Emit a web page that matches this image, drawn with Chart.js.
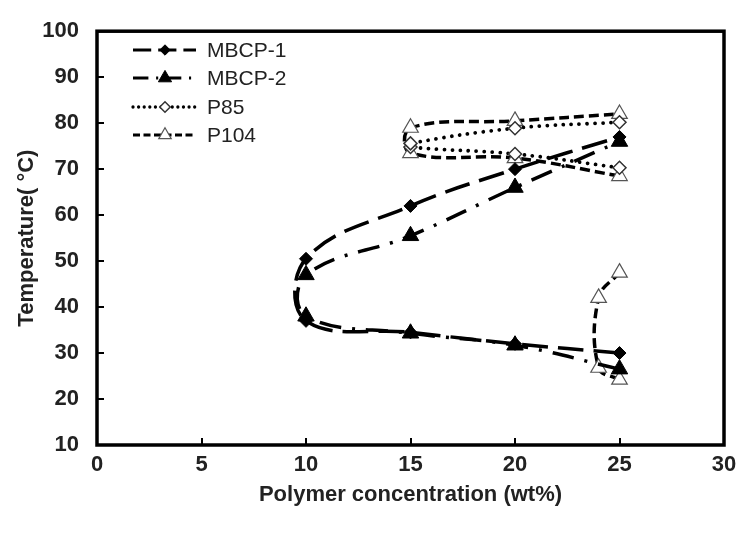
<!DOCTYPE html>
<html><head><meta charset="utf-8">
<script src="https://cdn.jsdelivr.net/npm/chart.js@4/dist/chart.umd.min.js"></script>
<style>html,body{margin:0;padding:0;background:#fff}#wrap{width:751px;height:543px}</style>
</head><body><div id="wrap"><canvas id="c" width="751" height="543"></canvas></div>
<script>
const seriesNames = ['MBCP-1', 'MBCP-2', 'P85', 'P104'];
const mbcp1X = [25, 20, 15, 10, 10, 15, 20, 25];
const mbcp1Y = [30, 32, 34.5, 37, 50.5, 62, 70, 77];
const mbcp2X = [25, 20, 15, 10, 10, 15, 20, 25];
const mbcp2Y = [26.5, 31.7, 34.3, 38, 47, 55.5, 66, 76];
const p85X = [25, 20, 15, 15, 20, 25];
const p85Y = [70.3, 73.3, 74.8, 75.6, 78.9, 80.2];
const p104X = [25, 20, 15, 15, 20, 25];
const p104Y = [68.5, 72.4, 73.5, 79, 80.5, 82];
const p104LowX = [25, 24, 24, 25];
const p104LowY = [24.2, 26.8, 42, 47.5];
const xTicks = [0, 5, 10, 15, 20, 25, 30];
const yTicks = [10, 20, 30, 40, 50, 60, 70, 80, 90, 100];
const xTitle = 'Polymer concentration (wt%)';
const yTitle = 'Temperature( \u00B0C)';

const pts = (xs, ys) => xs.map((x, i) => ({x: x, y: ys[i]}));
const FONT = "'Liberation Sans', Arial, sans-serif";

const styles = [
  {dash: [26, 10], cap: 'butt', width: 3.5, point: 'rectRot', r: 6.5, fill: '#000', stroke: '#000', bw: 1},
  {dash: [22, 11, 3, 11], cap: 'butt', width: 3.5, point: 'triangle', r: 9.5, fill: '#000', stroke: '#000', bw: 1},
  {dash: [0.01, 8], cap: 'round', width: 3.8, point: 'rectRot', r: 6.5, fill: '#fff', stroke: '#333', bw: 1.5},
  {dash: [10, 5], cap: 'butt', width: 3.5, point: 'triangle', r: 9, fill: '#fff', stroke: '#555', bw: 1.2}
];

function mk(label, data, s, hidden) {
  return {
    label: label, data: data, showLine: true, tension: 0.4,
    borderColor: '#000', borderWidth: s.width, borderDash: s.dash, borderCapStyle: s.cap,
    pointStyle: s.point, pointRadius: s.r, pointBackgroundColor: s.fill,
    pointBorderColor: s.stroke, pointBorderWidth: s.bw, pointHoverRadius: s.r,
    fill: false, legendHidden: !!hidden, styleRef: s
  };
}

const datasets = [
  mk(seriesNames[0], pts(mbcp1X, mbcp1Y), styles[0]),
  mk(seriesNames[1], pts(mbcp2X, mbcp2Y), styles[1]),
  mk(seriesNames[2], pts(p85X, p85Y), styles[2]),
  mk(seriesNames[3], pts(p104X, p104Y), styles[3]),
  mk(seriesNames[3], pts(p104LowX, p104LowY), styles[3], true)
];

const framePlugin = {
  id: 'frame',
  beforeDatasetsDraw(chart) {
    const ctx = chart.ctx, a = chart.chartArea;
    const xs = chart.scales.x, ys = chart.scales.y;
    ctx.save();
    ctx.strokeStyle = '#000';
    ctx.lineWidth = 2;
    ctx.beginPath();
    xTicks.forEach(v => { const px = Math.round(xs.getPixelForValue(v)); ctx.moveTo(px, a.bottom); ctx.lineTo(px, a.bottom - 7); });
    yTicks.forEach(v => { const py = Math.round(ys.getPixelForValue(v)); ctx.moveTo(a.left, py); ctx.lineTo(a.left + 7, py); });
    ctx.stroke();
    ctx.lineWidth = 3.5;
    ctx.strokeRect(a.left, a.top, a.right - a.left, a.bottom - a.top);
    ctx.restore();
  },
  afterDraw(chart) {
    const ctx = chart.ctx;
    const rows = [50, 78, 107, 135];
    let r = 0;
    chart.data.datasets.forEach((ds) => {
      if (ds.legendHidden) return;
      const s = ds.styleRef, y = rows[r++];
      ctx.save();
      ctx.strokeStyle = '#000';
      ctx.lineWidth = s.width - 0.5;
      ctx.lineCap = s.cap;
      ctx.setLineDash(s.dash.map(d => d * 0.7));
      ctx.beginPath(); ctx.moveTo(133, y); ctx.lineTo(196, y); ctx.stroke();
      ctx.setLineDash([]);
      ctx.fillStyle = s.fill; ctx.strokeStyle = s.stroke; ctx.lineWidth = s.bw;
      Chart.helpers.drawPoint(ctx, {pointStyle: s.point, radius: s.r * 0.8, rotation: 0, borderWidth: s.bw}, 165, y);
      ctx.fillStyle = '#222';
      ctx.font = '21px ' + FONT;
      ctx.textBaseline = 'middle';
      ctx.textAlign = 'left';
      ctx.fillText(ds.label, 207, y + 1);
      ctx.restore();
    });
  }
};

new Chart(document.getElementById('c'), {
  type: 'scatter',
  data: {datasets: datasets},
  plugins: [framePlugin],
  options: {
    responsive: false, animation: false, devicePixelRatio: 1,
    layout: {padding: {left: 0, right: 27, top: 17, bottom: 0}},
    plugins: {legend: {display: false}, tooltip: {enabled: false}},
    elements: {line: {borderJoinStyle: 'round'}},
    scales: {
      x: {
        type: 'linear', min: 0, max: 30,
        afterBuildTicks: s => { s.ticks = xTicks.map(v => ({value: v})); },
        afterFit: s => { s.height = 98; },
        grid: {display: false, drawTicks: false},
        border: {display: false},
        ticks: {padding: 7, color: '#222', font: {family: FONT, size: 22, weight: 'bold'}, maxRotation: 0},
        title: {display: true, text: xTitle, color: '#222', font: {family: FONT, size: 22, weight: 'bold'}, padding: {top: 0, bottom: 35}}
      },
      y: {
        type: 'linear', min: 10, max: 100,
        afterBuildTicks: s => { s.ticks = yTicks.map(v => ({value: v})); },
        afterFit: s => { s.width = 97; },
        grid: {display: false, drawTicks: false},
        border: {display: false},
        ticks: {padding: 18, color: '#222', font: {family: FONT, size: 22, weight: 'bold'}},
        title: {display: true, text: yTitle, color: '#222', font: {family: FONT, size: 22, weight: 'bold'}, padding: {top: 14, bottom: 0}}
      }
    }
  }
});
</script></body></html>
